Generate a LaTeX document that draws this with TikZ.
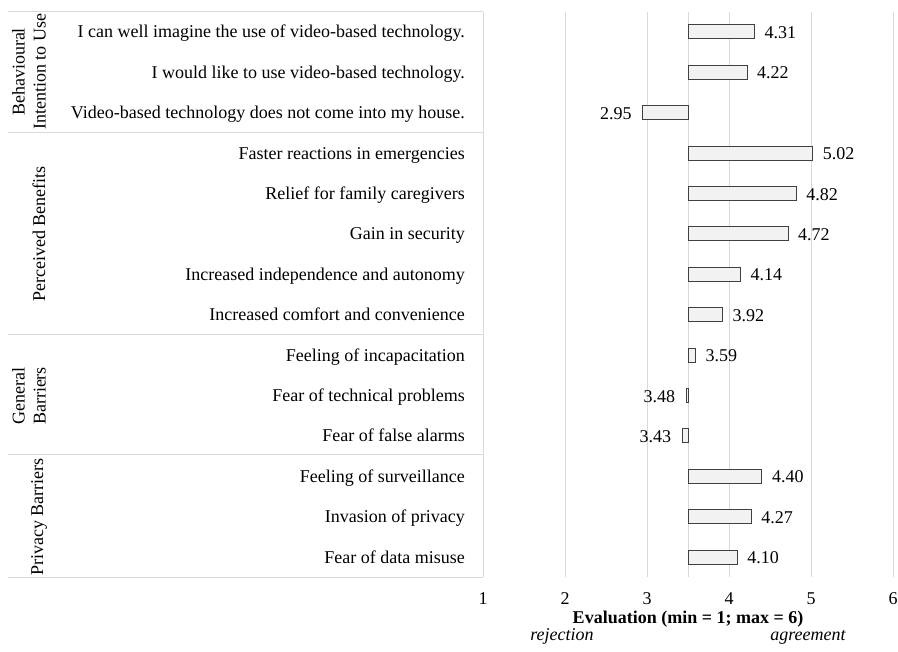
\documentclass[tikz,border=0pt]{standalone}
\usepackage{fontspec}
\setmainfont{Liberation Serif}
\definecolor{gridc}{HTML}{D9D9D9}
\definecolor{barfill}{HTML}{F2F2F2}
\definecolor{barline}{HTML}{404040}
\begin{document}
\begin{tikzpicture}[x=1pt,y=-1pt,
  font=\fontsize{18}{22}\selectfont,
  gridline/.style={draw=gridc, line width=1pt},
  barbox/.style={draw=barline, fill=barfill, line width=1pt},
  rowlabel/.style={anchor=base east, inner sep=0pt},
  vallabel/.style={inner sep=0pt},
  catlabel/.style={rotate=90, align=center, inner sep=0pt, font=\fontsize{18}{21}\selectfont},
  ticklabel/.style={anchor=base, inner sep=0pt}]
\useasboundingbox (0,0) rectangle (898,652);
% vertical grid lines
\foreach \k in {0,...,5} {
  \draw[gridline] ({483+82*\k},12) -- ({483+82*\k},577);
}
\draw[gridline] (688,12) -- (688,577);
% horizontal separators
\foreach \yy in {12,133,335,455,577} {
  \draw[gridline] (8,\yy) -- (483,\yy);
}
% rows
\foreach [count=\i] \lab/\val in {
  {I can well imagine the use of video-based technology.}/4.31,
  {I would like to use video-based technology.}/4.22,
  {Video-based technology does not come into my house.}/2.95,
  {Faster reactions in emergencies}/5.02,
  {Relief for family caregivers}/4.82,
  {Gain in security}/4.72,
  {Increased independence and autonomy}/4.14,
  {Increased comfort and convenience}/3.92,
  {Feeling of incapacitation}/3.59,
  {Fear of technical problems}/3.48,
  {Fear of false alarms}/3.43,
  {Feeling of surveillance}/4.40,
  {Invasion of privacy}/4.27,
  {Fear of data misuse}/4.10}
{
  \pgfmathsetmacro\yy{32+40.4*(\i-1)}
  \pgfmathsetmacro\xe{483+82*(\val-1)}
  \node[rowlabel] (l\i) at (465,\yy+6) {\lab};
  \draw[barbox] (688,\yy-7) rectangle (\xe,\yy+7);
  \ifdim\val pt>3.5pt
    \node[vallabel, anchor=base west] (v\i) at (\xe+10,\yy+6.5) {\val};
  \else
    \node[vallabel, anchor=base east] (v\i) at (\xe-11,\yy+6.5) {\val};
  \fi
}
% category labels
\node[catlabel] (c1) at (29,72) {Behavioural\\Intention to Use};
\node[catlabel] (c2) at (39,234) {Perceived Benefits};
\node[catlabel] (c3) at (29,396) {General\\Barriers};
\node[catlabel] (c4) at (39,517) {Privacy Barriers};
% axis tick labels
\foreach \k in {1,...,6} {
  \node[ticklabel] (t\k) at ({483+82*(\k-1)},605) {\k};
}
\node[ticklabel, font=\fontsize{18}{22}\selectfont\bfseries] (title) at (688,623) {Evaluation (min = 1; max = 6)};
\node[ticklabel, font=\fontsize{18}{22}\selectfont\itshape] (rej) at (562,640) {rejection};
\node[ticklabel, font=\fontsize{18}{22}\selectfont\itshape] (agr) at (808,640) {agreement};
\end{tikzpicture}
\end{document}
